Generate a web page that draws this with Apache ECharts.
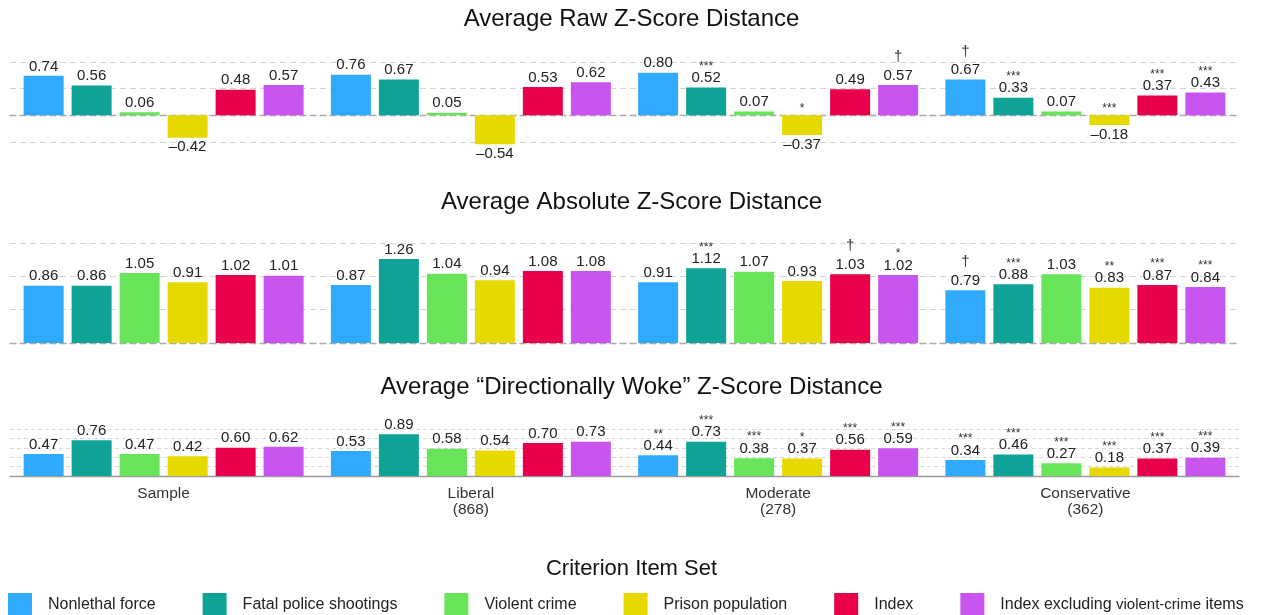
<!DOCTYPE html>
<html>
<head>
<meta charset="utf-8">
<script src="https://cdn.jsdelivr.net/npm/echarts@6/dist/echarts.min.js"></script>
<style>
  html, body { margin: 0; padding: 0; background: #ffffff; }
  #chart { width: 1263px; height: 615px; }
</style>
</head>
<body>
<div id="chart"></div>
<script>
// Groups along the x axis and their sample sizes
const groups = ['Sample', 'Liberal', 'Moderate', 'Conservative'];
const groupSizes = ['', '(868)', '(278)', '(362)'];

// Criterion item sets (one bar per set in every group)
const criteria = [
  'Nonlethal force',
  'Fatal police shootings',
  'Violent crime',
  'Prison population',
  'Index',
  'Index excluding violent-crime items'
];

// Rows follow `criteria`, columns follow `groups`
const rawScores = [
  [0.74, 0.76, 0.80, 0.67],
  [0.56, 0.67, 0.52, 0.33],
  [0.06, 0.05, 0.07, 0.07],
  [-0.42, -0.54, -0.37, -0.18],
  [0.48, 0.53, 0.49, 0.37],
  [0.57, 0.62, 0.57, 0.43]
];
const rawMarks = [
  ['', '', '', '†'],
  ['', '', '***', '***'],
  ['', '', '', ''],
  ['', '', '*', '***'],
  ['', '', '', '***'],
  ['', '', '†', '***']
];

const absScores = [
  [0.86, 0.87, 0.91, 0.79],
  [0.86, 1.26, 1.12, 0.88],
  [1.05, 1.04, 1.07, 1.03],
  [0.91, 0.94, 0.93, 0.83],
  [1.02, 1.08, 1.03, 0.87],
  [1.01, 1.08, 1.02, 0.84]
];
const absMarks = [
  ['', '', '', '†'],
  ['', '', '***', '***'],
  ['', '', '', ''],
  ['', '', '', '**'],
  ['', '', '†', '***'],
  ['', '', '*', '***']
];

const wokeScores = [
  [0.47, 0.53, 0.44, 0.34],
  [0.76, 0.89, 0.73, 0.46],
  [0.47, 0.58, 0.38, 0.27],
  [0.42, 0.54, 0.37, 0.18],
  [0.60, 0.70, 0.56, 0.37],
  [0.62, 0.73, 0.59, 0.39]
];
const wokeMarks = [
  ['', '', '**', '***'],
  ['', '', '***', '***'],
  ['', '', '***', '***'],
  ['', '', '*', '***'],
  ['', '', '***', '***'],
  ['', '', '***', '***']
];

const panelTitles = [
  'Average Raw Z-Score Distance',
  'Average Absolute Z-Score Distance',
  'Average \u201cDirectionally Woke\u201d Z-Score Distance'
];
const legendTitle = 'Criterion Item Set';

const colors = ['#31a9ff', '#0ea396', '#68e35a', '#e5d900', '#e8004b', '#c955f0'];
const FONT = '"Liberation Sans", Arial, Helvetica, sans-serif';

const rich = {
  v: { fontFamily: FONT, fontSize: 15, color: '#222', lineHeight: 17 },
  m: { fontFamily: FONT, fontSize: 12, color: '#333', lineHeight: 6 },
  d: { fontFamily: FONT, fontSize: 15, color: '#333', lineHeight: 20 }
};

function valueText(v) {
  return (v < 0 ? '\u2013' : '') + Math.abs(v).toFixed(2);
}
function markText(m) {
  if (!m) return '';
  return m === '†' ? '{d|†}' : '{m|' + m + '}';
}

function panelSeries(scores, marks, xIdx, yIdx) {
  return criteria.map((name, i) => ({
    type: 'bar',
    name: name,
    xAxisIndex: xIdx,
    yAxisIndex: yIdx,
    barWidth: 40,
    barGap: '20%',
    clip: false,
    silent: true,
    itemStyle: { color: colors[i] },
    data: scores[i].map(v => ({ value: v, label: { position: v < 0 ? 'bottom' : 'top' } })),
    label: {
      show: true,
      distance: 1,
      rich: rich,
      formatter: p => {
        const m = marks[i][p.dataIndex];
        const t = '{v|' + valueText(p.value) + '}';
        if (p.value < 0 || !m) return t;
        return markText(m) + '\n' + t;
      }
    }
  }));
}

// Significance marks for negative bars sit above the zero line
function negativeMarkSeries(scores, marks, xIdx, yIdx) {
  return criteria.map((name, i) => ({
    type: 'bar',
    xAxisIndex: xIdx,
    yAxisIndex: yIdx,
    barWidth: 40,
    barGap: '20%',
    silent: true,
    itemStyle: { color: 'transparent' },
    data: scores[i].map((v, j) => (v < 0 && marks[i][j]) ? 0 : '-'),
    label: {
      show: true,
      position: 'top',
      distance: 4,
      rich: rich,
      formatter: p => markText(marks[i][p.dataIndex])
    }
  }));
}

const gridLeft = 10, gridRight = 24;
const lightDash = { color: '#d4d4d4', width: 1, type: [6, 4] };
const fineDash = { color: '#d8d8d8', width: 1, type: [4, 3] };
const zeroDash = { color: '#ababab', width: 1.3, type: [6, 4] };

const option = {
  animation: false,
  backgroundColor: '#ffffff',
  title: [
    { text: panelTitles[0], left: 'center', top: 5, padding: 0,
      textStyle: { fontFamily: FONT, fontSize: 24, fontWeight: 'normal', color: '#111', lineHeight: 28 } },
    { text: panelTitles[1], left: 'center', top: 188, padding: 0,
      textStyle: { fontFamily: FONT, fontSize: 24, fontWeight: 'normal', color: '#111', lineHeight: 28 } },
    { text: panelTitles[2], left: 'center', top: 373, padding: 0,
      textStyle: { fontFamily: FONT, fontSize: 24, fontWeight: 'normal', color: '#111', lineHeight: 28 } },
    { text: legendTitle, left: 'center', top: 556, padding: 0,
      textStyle: { fontFamily: FONT, fontSize: 22, fontWeight: 'normal', color: '#111', lineHeight: 26 } }
  ],
  legend: {
    data: criteria,
    left: 8,
    top: 593,
    padding: 0,
    itemWidth: 24,
    itemHeight: 24,
    itemGap: 47,
    icon: 'rect',
    selectedMode: false,
    textStyle: {
      fontFamily: FONT, fontSize: 16, color: '#222', padding: [0, 0, 0, 11],
      rich: {
        a: { fontFamily: FONT, fontSize: 16, color: '#222' },
        b: { fontFamily: FONT, fontSize: 15, color: '#222' }
      }
    },
    formatter: name => name === criteria[5]
      ? '{a|Index excluding }{b|violent-crime}{a| items}'
      : '{a|' + name + '}'
  },
  grid: [
    { left: gridLeft, right: gridRight, top: 62, height: 80 },
    { left: gridLeft, right: gridRight, top: 243, height: 100 },
    { left: gridLeft, right: gridRight, top: 429, height: 47 }
  ],
  xAxis: [
    { type: 'category', gridIndex: 0, data: groups,
      axisLine: { show: true, lineStyle: zeroDash }, axisTick: { show: false }, axisLabel: { show: false } },
    { type: 'category', gridIndex: 0, data: groups, show: false },
    { type: 'category', gridIndex: 1, data: groups,
      axisLine: { show: true, lineStyle: zeroDash }, axisTick: { show: false }, axisLabel: { show: false } },
    { type: 'category', gridIndex: 2, data: groups.map((g, i) => groupSizes[i] ? g + '\n' + groupSizes[i] : g),
      axisLine: { show: true, lineStyle: { color: '#9a9a9a', width: 1.3 } }, axisTick: { show: false },
      axisLabel: { show: true, margin: 10, fontFamily: FONT, fontSize: 15.5, lineHeight: 16, color: '#333' } }
  ],
  yAxis: [
    { type: 'value', gridIndex: 0, min: -0.5, max: 1, interval: 0.5,
      axisLabel: { show: false }, axisLine: { show: false }, axisTick: { show: false },
      splitLine: { show: true, lineStyle: lightDash } },
    { type: 'value', gridIndex: 1, min: 0, max: 1.5, interval: 0.5,
      axisLabel: { show: false }, axisLine: { show: false }, axisTick: { show: false },
      splitLine: { show: true, lineStyle: lightDash } },
    { type: 'value', gridIndex: 2, min: 0, max: 1, interval: 0.2,
      axisLabel: { show: false }, axisLine: { show: false }, axisTick: { show: false },
      splitLine: { show: true, lineStyle: fineDash } }
  ],
  series: [].concat(
    panelSeries(rawScores, rawMarks, 0, 0),
    negativeMarkSeries(rawScores, rawMarks, 1, 0),
    panelSeries(absScores, absMarks, 2, 1),
    panelSeries(wokeScores, wokeMarks, 3, 2)
  )
};

const chart = echarts.init(document.getElementById('chart'), null, { renderer: 'canvas' });
chart.setOption(option);
</script>
</body>
</html>
